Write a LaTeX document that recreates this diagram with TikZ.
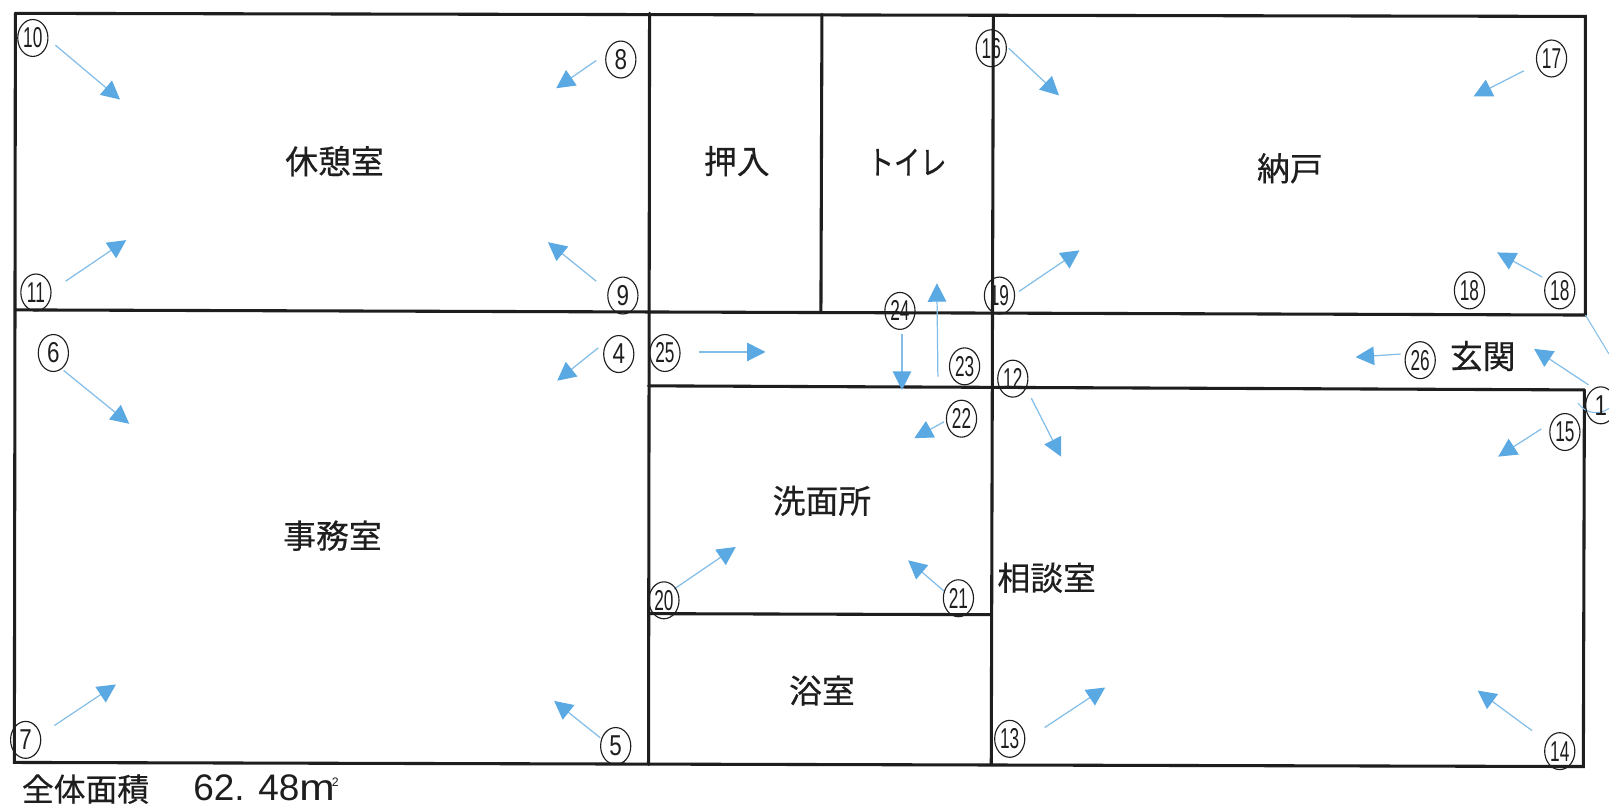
\documentclass[tikz,border=0pt]{standalone}
\usepackage{fontspec}
\usetikzlibrary{arrows.meta,shapes.geometric}
\setmainfont{Liberation Sans}
\newfontfamily\jpfont[FakeBold=0.4]{Noto Sans CJK JP}
\definecolor{flowblue}{HTML}{5AA9E2}
\definecolor{wallink}{HTML}{1E1E1E}
\tikzset{
  wall/.style={draw=wallink,line width=1.5pt,line cap=round},
  flow/.style={draw=flowblue!75,line width=0.6pt,-{Triangle[length=9pt,width=9pt,fill=flowblue,color=flowblue]}},
  faint/.style={draw=flowblue!75,line width=0.5pt},
  numcircle/.style={ellipse,draw=wallink,line width=0.55pt,minimum width=14.7pt,minimum height=18pt,inner sep=0pt,font=\fontsize{14}{14}\selectfont,text=wallink},
  roomlabel/.style={font=\jpfont\fontsize{16}{16}\selectfont,text=wallink,inner sep=0pt},
  footer/.style={font=\jpfont\fontsize{15.5}{16}\selectfont,text=wallink,inner sep=0pt,anchor=west},
}
\newcommand{\nar}[1]{\scalebox{0.6}[1]{#1}}
\newcommand{\one}[1]{\scalebox{0.78}[1]{#1}}
\newcommand{\flowarrow}[5]{%
  \coordinate (#1s) at (#2,#3);
  \coordinate (#1e) at (#4,#5);
  \draw[flow] (#1s) -- (#1e);}
\newcommand{\numnode}[4]{\node[numcircle] (#1) at (#2,#3) {#4};}
\begin{document}
\begin{tikzpicture}[x=0.5pt,y=-0.5pt]
\useasboundingbox (0,0) rectangle (1568,787.4);
\fill[white] (0,0) rectangle (1568,787.4);
\clip (0,0) rectangle (1568,787.4);

% walls
\coordinate (tl) at (15,13);
\coordinate (tr) at (1545,16);
\coordinate (bl) at (14,743);
\coordinate (br) at (1543,747);
\draw[wall] (tl) -- (tr) -- (1545,307);
\draw[wall] (1544,380) -- (br) -- (bl) -- (tl);
\draw[wall] (633,13) -- (632,745);
\draw[wall] (15,302) -- (1545,307);
\draw[wall] (801,14) -- (800,304);
\draw[wall] (968,15) -- (967,378) -- (966,745);
\draw[wall] (632,376) -- (1544,380);
\draw[wall] (632,598) -- (966,599);

% room labels
\node[roomlabel] (r1) at (326,157) {休憩室};
\node[roomlabel] (r2) at (718,157) {押入};
\node[roomlabel] (r3) at (884,158) {\scalebox{0.8}[1]{トイレ}};
\node[roomlabel] (r4) at (1257,164) {納戸};
\node[roomlabel] (r5) at (1445,347) {玄関};
\node[roomlabel] (r6) at (324,522) {事務室};
\node[roomlabel] (r7) at (801,488) {洗面所};
\node[roomlabel] (r8) at (1020,563) {相談室};
\node[roomlabel] (r9) at (801,673) {浴室};
\node[footer] (f1) at (21,769) {全体面積};
\node[footer,font=\fontsize{18}{18}\selectfont] (f2) at (188,768) {62. 48\scalebox{1.15}[1]{m}\raisebox{7pt}{\hspace{-1.5pt}\fontsize{6}{6}\selectfont 2}};

% arrows
\flowarrow{a10}{54}{44}{117}{97}
\flowarrow{a8}{581}{59}{542}{86}
\flowarrow{a11}{64}{274}{123}{234}
\flowarrow{a9}{581}{274}{534}{236}
\flowarrow{a6}{62}{361}{126}{413}
\flowarrow{a4}{583}{339}{543}{371}
\flowarrow{a7}{53}{707}{113}{667}
\flowarrow{a5}{585}{719}{540}{683}
\flowarrow{a16}{983}{47}{1032}{93}
\flowarrow{a17}{1485}{69}{1436}{94}
\flowarrow{a19}{993}{284}{1052}{244}
\flowarrow{a18}{1503}{270}{1459}{246}
\flowarrow{a25}{681}{343}{746}{343}
\flowarrow{a24}{879}{325}{879}{380}
\flowarrow{a23}{914}{367}{913}{276}
\flowarrow{a12}{1005}{388}{1034}{445}
\flowarrow{a26}{1365}{345}{1321}{348}
\flowarrow{a1}{1548}{375}{1495}{340}
\flowarrow{a22}{920}{411}{891}{427}
\flowarrow{a15}{1502}{418}{1460}{445}
\flowarrow{a20}{657}{574}{717}{533}
\flowarrow{a21}{920}{576}{885}{546}
\flowarrow{a13}{1018}{709}{1077}{670}
\flowarrow{a14}{1493}{712}{1440}{673}
\coordinate (o1) at (1545,307);
\coordinate (o2) at (1568,345);
\draw[faint] (o1) -- (o2);
\coordinate (o3) at (1538,393);
\coordinate (o4) at (1568,398);
\draw[faint] (o3) .. controls (1545,403) and (1558,405) .. (o4);

% number circles
\numnode{n10}{32}{37}{\nar{10}}
\numnode{n8}{605}{58}{\one{8}}
\numnode{n11}{35}{285}{\nar{11}}
\numnode{n9}{607}{288}{\one{9}}
\numnode{n6}{52}{344}{\one{6}}
\numnode{n4}{603}{345}{\one{4}}
\numnode{n7}{25}{721}{\one{7}}
\numnode{n5}{600}{727}{\one{5}}
\numnode{n16}{966}{47}{\nar{16}}
\numnode{n17}{1512}{57}{\nar{17}}
\numnode{n19}{974}{288}{\nar{19}}
\numnode{n18a}{1432}{283}{\nar{18}}
\numnode{n18b}{1520}{283}{\nar{18}}
\numnode{n25}{648}{344}{\nar{25}}
\numnode{n24}{877}{303}{\nar{24}}
\numnode{n23}{940}{357}{\nar{23}}
\numnode{n12}{987}{369}{\nar{12}}
\numnode{n26}{1384}{351}{\nar{26}}
\numnode{n1}{1560}{395}{\one{1}}
\numnode{n22}{937}{408}{\nar{22}}
\numnode{n15}{1525}{421}{\nar{15}}
\numnode{n20}{647}{585}{\nar{20}}
\numnode{n21}{934}{583}{\nar{21}}
\numnode{n13}{984}{720}{\nar{13}}
\numnode{n14}{1520}{732}{\nar{14}}
\end{tikzpicture}
\end{document}
